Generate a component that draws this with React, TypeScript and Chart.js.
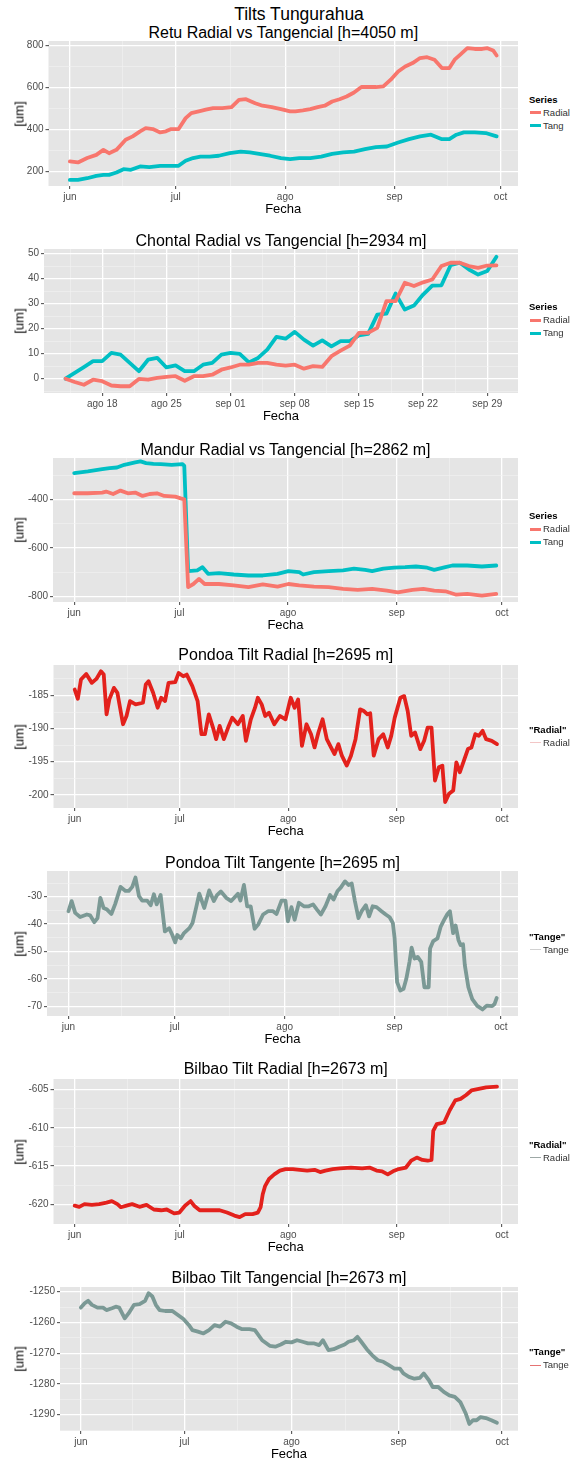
import React, { useEffect, useRef } from "react";
import { Chart, registerables } from "chart.js";

Chart.register(...registerables);

// ---------- tick definitions (days counted from 1 June) ----------
const monthTicks = [0, 30, 61, 92, 122];
const monthLabels = ["jun", "jul", "ago", "sep", "oct"];
const monthMinor = [15, 45.5, 76.5, 107];

const weekTicks = [78, 85, 92, 99, 106, 113, 120];
const weekLabels = ["ago 18", "ago 25", "sep 01", "sep 08", "sep 15", "sep 22", "sep 29"];
const weekMinor = [74.5, 81.5, 88.5, 95.5, 102.5, 109.5, 116.5];

// ---------- Retu ----------
const retuRadialDays = [0, 2.3, 4.9, 7.5, 9.5, 11.1, 13.2, 15.8, 17.8, 19.9, 21.5, 23.5, 25.6, 27.2, 28.7, 30.8, 32.8, 34.4, 36.5, 38.5, 40.6, 43.2, 45.8, 47.9, 49.9, 52.5, 54.6, 57.2, 59.8, 62.4, 63.9, 66.0, 68.1, 70.2, 72.2, 74.3, 76.4, 78.4, 80.5, 82.6, 84.7, 86.7, 88.8, 90.9, 93.0, 95.0, 97.1, 99.2, 101.2, 103.3, 105.4, 107.5, 109.0, 110.6, 112.6, 114.7, 116.8, 118.3, 119.9, 120.9];
const retuRadial = [248, 243, 264, 279, 303, 287, 303, 351, 367, 391, 406, 402, 386, 391, 402, 402, 454, 478, 486, 494, 502, 502, 506, 541, 544, 525, 513, 506, 497, 486, 486, 491, 497, 506, 513, 533, 544, 557, 576, 602, 602, 602, 605, 637, 676, 700, 716, 740, 744, 732, 692, 692, 732, 756, 787, 783, 783, 787, 776, 752];
const retuTangDays = [0, 2.3, 4.9, 7.5, 9.5, 11.1, 13.2, 15.2, 17.3, 19.9, 22.5, 25.6, 28.7, 30.8, 32.8, 34.9, 37.0, 39.6, 42.2, 45.3, 48.4, 51.0, 53.6, 56.7, 59.8, 62.4, 65.0, 68.1, 71.2, 74.3, 77.4, 80.5, 83.6, 86.7, 89.8, 93.0, 96.1, 99.2, 102.3, 105.4, 107.5, 109.5, 111.6, 114.7, 117.8, 120.9];
const retuTang = [160, 160, 168, 179, 184, 184, 195, 211, 208, 224, 221, 227, 227, 227, 251, 264, 271, 271, 275, 287, 295, 291, 284, 275, 264, 259, 264, 264, 271, 284, 291, 295, 306, 316, 319, 338, 354, 367, 375, 354, 354, 375, 386, 386, 383, 367];

// ---------- Chontal (14 Aug .. 30 Sep) ----------
const chontalDays = [74, 75, 76, 77, 78, 79, 80, 81, 82, 83, 84, 85, 86, 87, 88, 89, 90, 91, 92, 93, 94, 95, 96, 97, 98, 99, 100, 101, 102, 103, 104, 105, 106, 107, 108, 109, 110, 111, 112, 113, 114, 115, 116, 117, 118, 119, 120, 121];
const chontalRadial = [0, -1.3, -2.4, -0.4, -1, -2.7, -3, -3, -0.1, -0.4, 0.3, 0.7, 1, -0.8, 1, 1, 1.6, 3.6, 4.5, 5.6, 5.6, 6.3, 6.3, 5.6, 5.2, 5.6, 4, 5, 4.7, 9, 11.2, 13.2, 18.3, 18.3, 20.3, 31, 31, 38.3, 37, 38.5, 39.6, 45, 46.3, 46.3, 45, 44.3, 45.2, 45.3];
const chontalTang = [0, 2.3, 4.6, 7, 7, 10.3, 9.6, 6.3, 3, 7.6, 8.3, 4.5, 5.3, 3, 3, 5.6, 6.3, 9.6, 10.3, 9.9, 6.5, 8.3, 11.6, 16.7, 16, 18.7, 15.6, 13.2, 15.3, 12.9, 15, 15, 17.3, 17.9, 25.6, 26, 34, 27.6, 29.2, 33.6, 37.2, 37.3, 45.3, 46.3, 43.6, 41.6, 43, 48.7];

// ---------- Mandur ----------
const mandurRadialDays = [0, 3.9, 8.0, 9.1, 11.1, 13.2, 15.3, 17.4, 19.5, 21.5, 23.6, 25.7, 28.8, 30.4, 31.4, 32.5, 34.0, 35.6, 37.2, 41.3, 45.5, 49.7, 53.8, 58.0, 61.1, 64.2, 68.4, 72.6, 76.7, 80.9, 85.0, 89.2, 92.3, 96.5, 99.6, 102.7, 105.9, 109.0, 112.1, 116.3, 120.4];
const mandurRadial = [-375, -375, -372, -368, -378, -364, -375, -372, -386, -378, -375, -386, -389, -396, -400, -761, -748, -727, -748, -748, -754, -761, -750, -759, -748, -754, -759, -761, -768, -772, -768, -775, -782, -772, -768, -775, -778, -792, -789, -796, -789];
const mandurTangDays = [0, 3.9, 8.0, 10.1, 12.2, 14.3, 17.4, 18.9, 20.5, 22.6, 24.7, 27.8, 30.9, 31.4, 32.5, 35.1, 36.6, 38.2, 41.3, 45.5, 49.7, 53.8, 58.0, 61.1, 64.2, 65.3, 68.4, 72.6, 76.7, 79.8, 83.0, 85.0, 88.2, 91.3, 94.4, 97.5, 100.7, 102.7, 105.9, 107.9, 112.1, 116.3, 120.4];
const mandurTang = [-292, -285, -276, -272, -269, -258, -248, -244, -251, -254, -255, -258, -255, -262, -695, -692, -679, -706, -703, -709, -713, -713, -706, -695, -699, -709, -699, -695, -692, -685, -690, -695, -685, -681, -679, -676, -681, -690, -679, -672, -672, -676, -672];

// ---------- Pondoa ----------
const pondoaRadialDays = [0, 0.9, 1.8, 3.3, 4.9, 6.2, 7.5, 8.3, 9.1, 9.9, 11.2, 12.2, 13.8, 14.8, 15.8, 17.4, 19.5, 20.3, 21.1, 22.4, 23.7, 24.7, 25.8, 26.8, 28.7, 29.7, 31.0, 32.0, 33.6, 35.1, 36.2, 37.2, 38.3, 39.5, 40.4, 41.4, 42.6, 44.0, 45.0, 46.6, 48.0, 48.9, 50.3, 51.5, 52.3, 53.4, 54.4, 55.5, 57.0, 58.6, 60.2, 61.7, 62.8, 63.8, 64.9, 66.2, 67.5, 68.5, 69.6, 70.8, 72.0, 73.2, 74.2, 75.3, 76.3, 77.7, 78.9, 80.2, 81.5, 82.6, 83.6, 84.4, 85.4, 86.8, 88.1, 89.4, 90.4, 91.4, 93.0, 94.1, 95.1, 96.1, 97.2, 98.7, 99.8, 100.8, 101.9, 102.9, 104.0, 105.0, 105.8, 106.9, 108.1, 109.0, 110.0, 111.3, 112.3, 113.3, 114.4, 115.4, 116.5, 117.5, 119.1, 120.6];
const pondoaRadial = [-184.1, -185.5, -182.6, -181.75, -183.1, -182.5, -181.35, -181.85, -187.85, -185.6, -183.85, -184.6, -189.35, -188.1, -185.85, -186.35, -186.1, -183.35, -182.85, -184.6, -186.85, -185.35, -185.85, -183.1, -183, -181.6, -182.1, -181.85, -183.6, -185.85, -190.85, -190.85, -187.85, -189.85, -191.6, -189.6, -191.6, -189.6, -188.35, -189.35, -188.1, -191.85, -188.6, -186.85, -185.35, -186.35, -188.1, -187.6, -189.35, -188.1, -188.6, -185.35, -186.85, -185.6, -192.6, -189.35, -190.85, -192.85, -190.6, -188.6, -191.6, -192.85, -193.85, -192.35, -194.1, -195.6, -194.1, -191.6, -187.1, -187.35, -187.85, -187.7, -194.1, -191.6, -190.85, -192.85, -191.1, -188.35, -185.35, -185.1, -187.35, -191.1, -190.6, -193.1, -191.85, -189.85, -189.85, -197.85, -195.85, -195.6, -201.1, -199.85, -199.35, -195.1, -196.6, -194.6, -193.1, -192.85, -190.85, -191.1, -190.35, -191.6, -191.85, -192.35];
const pondoaTangDays = [0, 0.9, 1.9, 3.3, 5.2, 6.1, 7.3, 8.2, 9.0, 9.9, 10.9, 12.1, 13.2, 14.7, 16.1, 17.0, 18.0, 18.9, 19.9, 20.8, 22.2, 23.2, 24.1, 24.9, 26.0, 27.2, 28.4, 29.3, 30.1, 30.7, 31.7, 32.6, 34.1, 35.0, 36.0, 36.9, 38.3, 39.7, 41.0, 41.9, 43.0, 44.5, 45.9, 47.8, 48.5, 49.5, 50.4, 51.4, 52.5, 53.5, 54.9, 56.3, 57.7, 58.7, 60.1, 61.2, 61.9, 62.9, 63.8, 65.0, 66.4, 67.8, 69.0, 70.1, 71.2, 72.5, 73.8, 74.8, 75.9, 76.8, 78.0, 79.0, 79.9, 80.8, 81.8, 82.7, 83.9, 84.8, 85.8, 86.9, 88.3, 89.5, 90.6, 91.5, 92.0, 92.7, 93.6, 94.5, 95.3, 96.2, 96.8, 97.6, 98.5, 99.5, 100.4, 101.6, 102.0, 102.9, 104.1, 105.0, 106.0, 106.9, 107.6, 108.5, 109.2, 110.0, 110.6, 111.3, 111.8, 112.8, 113.9, 115.3, 116.8, 118.0, 119.5, 120.2, 120.8];
const pondoaTang = [-35.3, -31.6, -35.9, -37.4, -36.5, -36.8, -39.3, -37.8, -30.4, -34.1, -34.7, -36.3, -32.6, -26.4, -27.9, -27.9, -26.4, -23.0, -29.8, -31.4, -31.4, -33.1, -29.1, -32.8, -29.4, -42.7, -41.5, -44.0, -46.7, -44.0, -45.2, -43.3, -41.5, -39.6, -34.1, -28.9, -34.1, -27.7, -31.6, -29.4, -28.1, -30.4, -31.6, -28.9, -31.4, -25.7, -33.5, -33.5, -41.7, -40.2, -36.5, -35.3, -35.3, -36.3, -31.4, -31.4, -39.0, -33.8, -38.4, -32.2, -33.5, -33.5, -32.8, -34.7, -36.5, -33.5, -29.4, -31.0, -27.9, -26.7, -24.4, -25.7, -25.2, -31.6, -37.8, -35.3, -33.1, -37.2, -33.5, -33.8, -35.3, -36.5, -37.5, -39.6, -45.2, -61.2, -64.3, -63.7, -60.0, -53.8, -48.6, -52.6, -52.0, -53.8, -63.1, -63.1, -48.9, -46.2, -45.2, -40.9, -38.4, -36.3, -35.3, -43.3, -40.5, -45.8, -47.7, -47.4, -55.0, -63.1, -67.4, -69.9, -71.2, -69.8, -70.0, -69.2, -67.0];

// ---------- Bilbao ----------
const bilbaoRadialDays = [0, 1.3, 2.8, 4.9, 7.0, 9.1, 10.6, 12.2, 13.2, 14.8, 16.4, 18.5, 20.5, 22.6, 24.7, 26.3, 28.4, 29.9, 31.5, 33.1, 34.1, 35.7, 38.3, 41.4, 43.5, 45.6, 47.1, 48.7, 50.8, 52.3, 53.1, 53.7, 54.4, 55.5, 57.0, 58.6, 60.2, 62.3, 64.3, 66.4, 68.5, 70.1, 71.6, 73.7, 75.8, 78.9, 82.1, 84.2, 86.2, 87.8, 89.4, 90.9, 92.5, 94.6, 96.1, 97.7, 99.3, 100.8, 101.9, 102.4, 103.4, 105.5, 107.1, 108.7, 110.2, 111.8, 113.3, 115.4, 117.5, 120.6];
const bilbaoRadial = [-620.2, -620.35, -620.0, -620.1, -620.0, -619.8, -619.6, -620.0, -620.4, -620.2, -620.0, -620.35, -620.1, -620.7, -620.8, -620.7, -621.2, -621.1, -620.2, -619.6, -620.2, -620.8, -620.8, -620.8, -621.1, -621.5, -621.7, -621.3, -621.3, -621.1, -620.4, -618.7, -617.6, -616.7, -616.1, -615.6, -615.4, -615.4, -615.5, -615.6, -615.5, -615.8, -615.6, -615.4, -615.3, -615.2, -615.3, -615.2, -615.6, -615.7, -616.1, -615.7, -615.4, -615.2, -614.3, -613.9, -614.2, -614.3, -614.2, -610.4, -609.5, -609.3, -607.7, -606.4, -606.2, -605.7, -605.1, -604.9, -604.7, -604.6];
const bilbaoTangDays = [0, 1.1, 2.1, 3.2, 4.8, 6.4, 7.4, 9.0, 10.1, 11.1, 12.7, 13.8, 15.4, 17.0, 18.6, 19.6, 20.7, 21.7, 22.8, 24.4, 26.5, 28.1, 29.7, 31.3, 32.3, 33.9, 35.5, 37.1, 38.7, 40.3, 41.9, 43.5, 45.1, 46.7, 48.8, 50.4, 52.5, 54.7, 56.3, 57.9, 59.4, 61.0, 62.6, 64.2, 65.8, 67.4, 69.0, 70.1, 71.7, 73.2, 74.8, 76.4, 77.5, 79.1, 80.1, 81.2, 82.8, 84.4, 86.0, 87.6, 89.2, 90.8, 92.4, 93.4, 95.0, 96.6, 98.2, 99.3, 100.8, 101.9, 103.5, 105.1, 106.7, 108.3, 109.9, 111.5, 112.5, 113.6, 114.6, 115.7, 117.3, 118.9, 120.5];
const bilbaoTang = [-1255.2, -1253.8, -1253.0, -1254.3, -1255.2, -1255.2, -1256.0, -1255.4, -1254.9, -1255.2, -1258.7, -1257.1, -1254.3, -1254.1, -1253.0, -1250.5, -1251.6, -1254.3, -1256.0, -1256.3, -1256.3, -1257.6, -1258.9, -1260.9, -1262.5, -1263.0, -1263.6, -1262.5, -1260.9, -1261.4, -1259.8, -1260.3, -1261.4, -1262.2, -1262.2, -1262.5, -1265.8, -1267.6, -1267.9, -1267.2, -1266.3, -1266.5, -1265.8, -1266.3, -1266.8, -1266.8, -1267.4, -1265.8, -1269.0, -1268.7, -1267.9, -1267.2, -1266.3, -1265.8, -1264.7, -1266.3, -1268.7, -1270.7, -1272.3, -1272.8, -1273.9, -1275.0, -1275.0, -1276.6, -1277.7, -1278.3, -1278.0, -1276.6, -1278.8, -1281.0, -1281.0, -1282.6, -1283.7, -1284.2, -1285.9, -1289.7, -1293.0, -1291.8, -1291.8, -1290.8, -1291.1, -1291.8, -1292.6];

// ---------- styling ----------
const FONT = '"Liberation Sans", Arial, Helvetica, sans-serif';
const CANVAS_W = 524;
const PLOT_RIGHT = 518;
const PAD_TOP = 10;
const X_AXIS_H = 20;
const C_RADIAL = "#F8766D";
const C_TANG = "#00BFC4";
const C_RED = "#E3211C";
const C_GREY = "#7B9995";

type Series = { name: string; days: number[]; values: number[]; color: string };
type LegendItem = { label: string; color: string; width: number };
type PanelSpec = {
  title: string;
  titleY: number;
  plotLeft: number;
  plotTop: number;
  plotBottom: number;
  xMin: number;
  xMax: number;
  xTicks: number[];
  xLabels: string[];
  xMinor: number[];
  yMin: number;
  yMax: number;
  yTicks: number[];
  yMinor: number[];
  series: Series[];
  legendTitle: string;
  legendItems: LegendItem[];
};

const panels: PanelSpec[] = [
  {
    title: "Retu Radial vs Tangencial [h=4050 m]", titleY: 32.5,
    plotLeft: 48.5, plotTop: 41, plotBottom: 186,
    xMin: -6.05, xMax: 126.95, xTicks: monthTicks, xLabels: monthLabels, xMinor: monthMinor,
    yMin: 131, yMax: 821, yTicks: [200, 400, 600, 800], yMinor: [300, 500, 700],
    series: [
      { name: "Radial", days: retuRadialDays, values: retuRadial, color: C_RADIAL },
      { name: "Tang", days: retuTangDays, values: retuTang, color: C_TANG },
    ],
    legendTitle: "Series",
    legendItems: [{ label: "Radial", color: C_RADIAL, width: 3 }, { label: "Tang", color: C_TANG, width: 3 }],
  },
  {
    title: "Chontal Radial vs Tangencial [h=2934 m]", titleY: 241,
    plotLeft: 44, plotTop: 249, plotBottom: 393,
    xMin: 71.65, xMax: 123.35, xTicks: weekTicks, xLabels: weekLabels, xMinor: weekMinor,
    yMin: -5.7, yMax: 51.8, yTicks: [0, 10, 20, 30, 40, 50], yMinor: [-5, 5, 15, 25, 35, 45],
    series: [
      { name: "Radial", days: chontalDays, values: chontalRadial, color: C_RADIAL },
      { name: "Tang", days: chontalDays, values: chontalTang, color: C_TANG },
    ],
    legendTitle: "Series",
    legendItems: [{ label: "Radial", color: C_RADIAL, width: 3 }, { label: "Tang", color: C_TANG, width: 3 }],
  },
  {
    title: "Mandur Radial vs Tangencial [h=2862 m]", titleY: 449.5,
    plotLeft: 53, plotTop: 458, plotBottom: 602,
    xMin: -6.05, xMax: 126.6, xTicks: monthTicks, xLabels: monthLabels, xMinor: monthMinor,
    yMin: -822, yMax: -230, yTicks: [-800, -600, -400], yMinor: [-700, -500, -300],
    series: [
      { name: "Radial", days: mandurRadialDays, values: mandurRadial, color: C_RADIAL },
      { name: "Tang", days: mandurTangDays, values: mandurTang, color: C_TANG },
    ],
    legendTitle: "Series",
    legendItems: [{ label: "Radial", color: C_RADIAL, width: 3 }, { label: "Tang", color: C_TANG, width: 3 }],
  },
  {
    title: "Pondoa Tilt Radial [h=2695 m]", titleY: 654.5,
    plotLeft: 53.5, plotTop: 665, plotBottom: 808,
    xMin: -6.05, xMax: 126.6, xTicks: monthTicks, xLabels: monthLabels, xMinor: monthMinor,
    yMin: -202, yMax: -180.4, yTicks: [-200, -195, -190, -185], yMinor: [-197.5, -192.5, -187.5, -182.5],
    series: [{ name: "Radial", days: pondoaRadialDays, values: pondoaRadial, color: C_RED }],
    legendTitle: '"Radial"',
    legendItems: [{ label: "Radial", color: "#F3C6C6", width: 1.5 }],
  },
  {
    title: "Pondoa Tilt Tangente [h=2695 m]", titleY: 863,
    plotLeft: 47, plotTop: 871, plotBottom: 1016,
    xMin: -6.05, xMax: 126.8, xTicks: monthTicks, xLabels: monthLabels, xMinor: monthMinor,
    yMin: -73.6, yMax: -20.6, yTicks: [-70, -60, -50, -40, -30], yMinor: [-65, -55, -45, -35, -25],
    series: [{ name: "Tange", days: pondoaTangDays, values: pondoaTang, color: C_GREY }],
    legendTitle: '"Tange"',
    legendItems: [{ label: "Tange", color: "#D2D2D2", width: 1.5 }],
  },
  {
    title: "Bilbao Tilt Radial [h=2673 m]", titleY: 1069,
    plotLeft: 53.5, plotTop: 1079, plotBottom: 1224,
    xMin: -6.05, xMax: 126.6, xTicks: monthTicks, xLabels: monthLabels, xMinor: monthMinor,
    yMin: -622.6, yMax: -603.6, yTicks: [-620, -615, -610, -605], yMinor: [-617.5, -612.5, -607.5],
    series: [{ name: "Radial", days: bilbaoRadialDays, values: bilbaoRadial, color: C_RED }],
    legendTitle: '"Radial"',
    legendItems: [{ label: "Radial", color: "#9DA8A6", width: 1 }],
  },
  {
    title: "Bilbao Tilt Tangencial [h=2673 m]", titleY: 1277.5,
    plotLeft: 60, plotTop: 1287, plotBottom: 1431,
    xMin: -6.05, xMax: 126.6, xTicks: monthTicks, xLabels: monthLabels, xMinor: monthMinor,
    yMin: -1295.3, yMax: -1248.5, yTicks: [-1290, -1280, -1270, -1260, -1250], yMinor: [-1295, -1285, -1275, -1265, -1255],
    series: [{ name: "Tange", days: bilbaoTangDays, values: bilbaoTang, color: C_GREY }],
    legendTitle: '"Tange"',
    legendItems: [{ label: "Tange", color: "#E57373", width: 1 }],
  },
];

const panelBg = {
  id: "panelBg",
  beforeDraw(chart: any) {
    const { ctx, chartArea } = chart;
    if (!chartArea) return;
    ctx.save();
    ctx.fillStyle = "#E5E5E5";
    ctx.fillRect(chartArea.left, chartArea.top, chartArea.right - chartArea.left, chartArea.bottom - chartArea.top);
    ctx.restore();
  },
};

function gridFor(major: Set<number>) {
  const isMajor = (c: any) => !!c.tick && major.has(c.tick.value);
  return {
    color: (c: any) => (isMajor(c) ? "#FFFFFF" : "#F2F2F2"),
    lineWidth: (c: any) => (isMajor(c) ? 1.3 : 0.6),
    tickColor: (c: any) => (isMajor(c) ? "#444444" : "rgba(0,0,0,0)"),
    tickWidth: 1,
    tickLength: 3,
    drawTicks: true,
    drawOnChartArea: true,
  };
}

function PanelChart({ p }: { p: PanelSpec }) {
  const ref = useRef<HTMLCanvasElement | null>(null);
  const h = PAD_TOP + (p.plotBottom - p.plotTop) + X_AXIS_H;
  useEffect(() => {
    if (!ref.current) return;
    const xMajor = new Set(p.xTicks);
    const yMajor = new Set(p.yTicks);
    const xAll = [...p.xTicks, ...p.xMinor].sort((a, b) => a - b);
    const yAll = [...p.yTicks, ...p.yMinor].sort((a, b) => a - b);
    const tickFont = { family: FONT, size: 10 };
    const chart = new Chart(ref.current, {
      type: "line",
      data: {
        datasets: p.series.map((s) => ({
          label: s.name,
          data: s.days.map((d, i) => ({ x: d, y: s.values[i] })),
          borderColor: s.color,
          backgroundColor: s.color,
          borderWidth: 3.8,
          pointRadius: 0,
          tension: 0,
          fill: false,
          borderJoinStyle: "round",
          borderCapStyle: "round",
        })),
      },
      options: {
        responsive: false,
        maintainAspectRatio: false,
        animation: false,
        events: [],
        layout: { padding: { top: PAD_TOP, right: CANVAS_W - PLOT_RIGHT, left: 0, bottom: 0 } },
        plugins: { legend: { display: false }, title: { display: false }, tooltip: { enabled: false } },
        scales: {
          x: {
            type: "linear",
            min: p.xMin,
            max: p.xMax,
            afterBuildTicks: (sc: any) => {
              sc.ticks = xAll.map((v) => ({ value: v }));
            },
            afterFit: (sc: any) => {
              sc.height = X_AXIS_H;
            },
            ticks: {
              autoSkip: false,
              maxRotation: 0,
              minRotation: 0,
              padding: 2,
              font: tickFont,
              color: "#4D4D4D",
              callback: (v: any) => {
                const i = p.xTicks.indexOf(Number(v));
                return i >= 0 ? p.xLabels[i] : "";
              },
            },
            grid: gridFor(xMajor),
            border: { display: false },
          },
          y: {
            type: "linear",
            min: p.yMin,
            max: p.yMax,
            afterBuildTicks: (sc: any) => {
              sc.ticks = yAll.map((v) => ({ value: v }));
            },
            afterFit: (sc: any) => {
              sc.width = p.plotLeft;
            },
            ticks: {
              autoSkip: false,
              padding: 2,
              font: tickFont,
              color: "#4D4D4D",
              callback: (v: any) => (yMajor.has(Number(v)) ? String(v) : ""),
            },
            grid: gridFor(yMajor),
            border: { display: false },
          },
        },
      } as any,
      plugins: [panelBg],
    });
    return () => chart.destroy();
  }, [p]);
  return (
    <canvas
      ref={ref}
      width={CANVAS_W}
      height={h}
      style={{ position: "absolute", left: 0, top: p.plotTop - PAD_TOP, width: CANVAS_W, height: h }}
    />
  );
}

function CText({ x, y, size, children, weight = 400 }: { x: number; y: number; size: number; children: React.ReactNode; weight?: number }) {
  return (
    <div
      style={{
        position: "absolute",
        left: x - 250,
        width: 500,
        top: y - size * 0.6,
        lineHeight: `${size * 1.2}px`,
        fontSize: size,
        fontWeight: weight,
        textAlign: "center",
        whiteSpace: "nowrap",
        color: "#000",
      }}
    >
      {children}
    </div>
  );
}

function LText({ x, y, size, children, weight = 400, color = "#222" }: { x: number; y: number; size: number; children: React.ReactNode; weight?: number; color?: string }) {
  return (
    <div
      style={{
        position: "absolute",
        left: x,
        top: y - size * 0.6,
        lineHeight: `${size * 1.2}px`,
        fontSize: size,
        fontWeight: weight,
        whiteSpace: "nowrap",
        color,
      }}
    >
      {children}
    </div>
  );
}

function Panel({ p }: { p: PanelSpec }) {
  const cx = (p.plotLeft + PLOT_RIGHT) / 2;
  const cy = (p.plotTop + p.plotBottom) / 2;
  const single = p.legendItems.length === 1;
  const titleY = single ? cy - 7 : cy - 14;
  return (
    <>
      <CText x={cx} y={p.titleY} size={16}>{p.title}</CText>
      <PanelChart p={p} />
      <CText x={cx} y={p.plotBottom + 22.5} size={13}>Fecha</CText>
      <div
        style={{
          position: "absolute",
          left: 19,
          top: cy,
          transform: "translate(-50%,-50%) rotate(-90deg)",
          fontSize: 13,
          lineHeight: "15px",
          whiteSpace: "nowrap",
          color: "#000",
        }}
      >
        [um]
      </div>
      <LText x={529} y={titleY} size={9.5} weight={700} color="#000">{p.legendTitle}</LText>
      {p.legendItems.map((it, i) => {
        const y = titleY + 13 + i * 13;
        return (
          <React.Fragment key={it.label}>
            <div
              style={{
                position: "absolute",
                left: 530,
                width: 11,
                top: y - it.width / 2,
                height: it.width,
                background: it.color,
              }}
            />
            <LText x={543} y={y} size={9.5} color="#333">{it.label}</LText>
          </React.Fragment>
        );
      })}
    </>
  );
}

export default function App() {
  return (
    <div
      style={{
        position: "absolute",
        left: 0,
        top: 0,
        width: 573,
        height: 1458,
        overflow: "hidden",
        background: "#FFFFFF",
        fontFamily: FONT,
      }}
    >
      <CText x={299} y={14} size={17.5}>Tilts Tungurahua</CText>
      {panels.map((p) => (
        <Panel key={p.title} p={p} />
      ))}
    </div>
  );
}
